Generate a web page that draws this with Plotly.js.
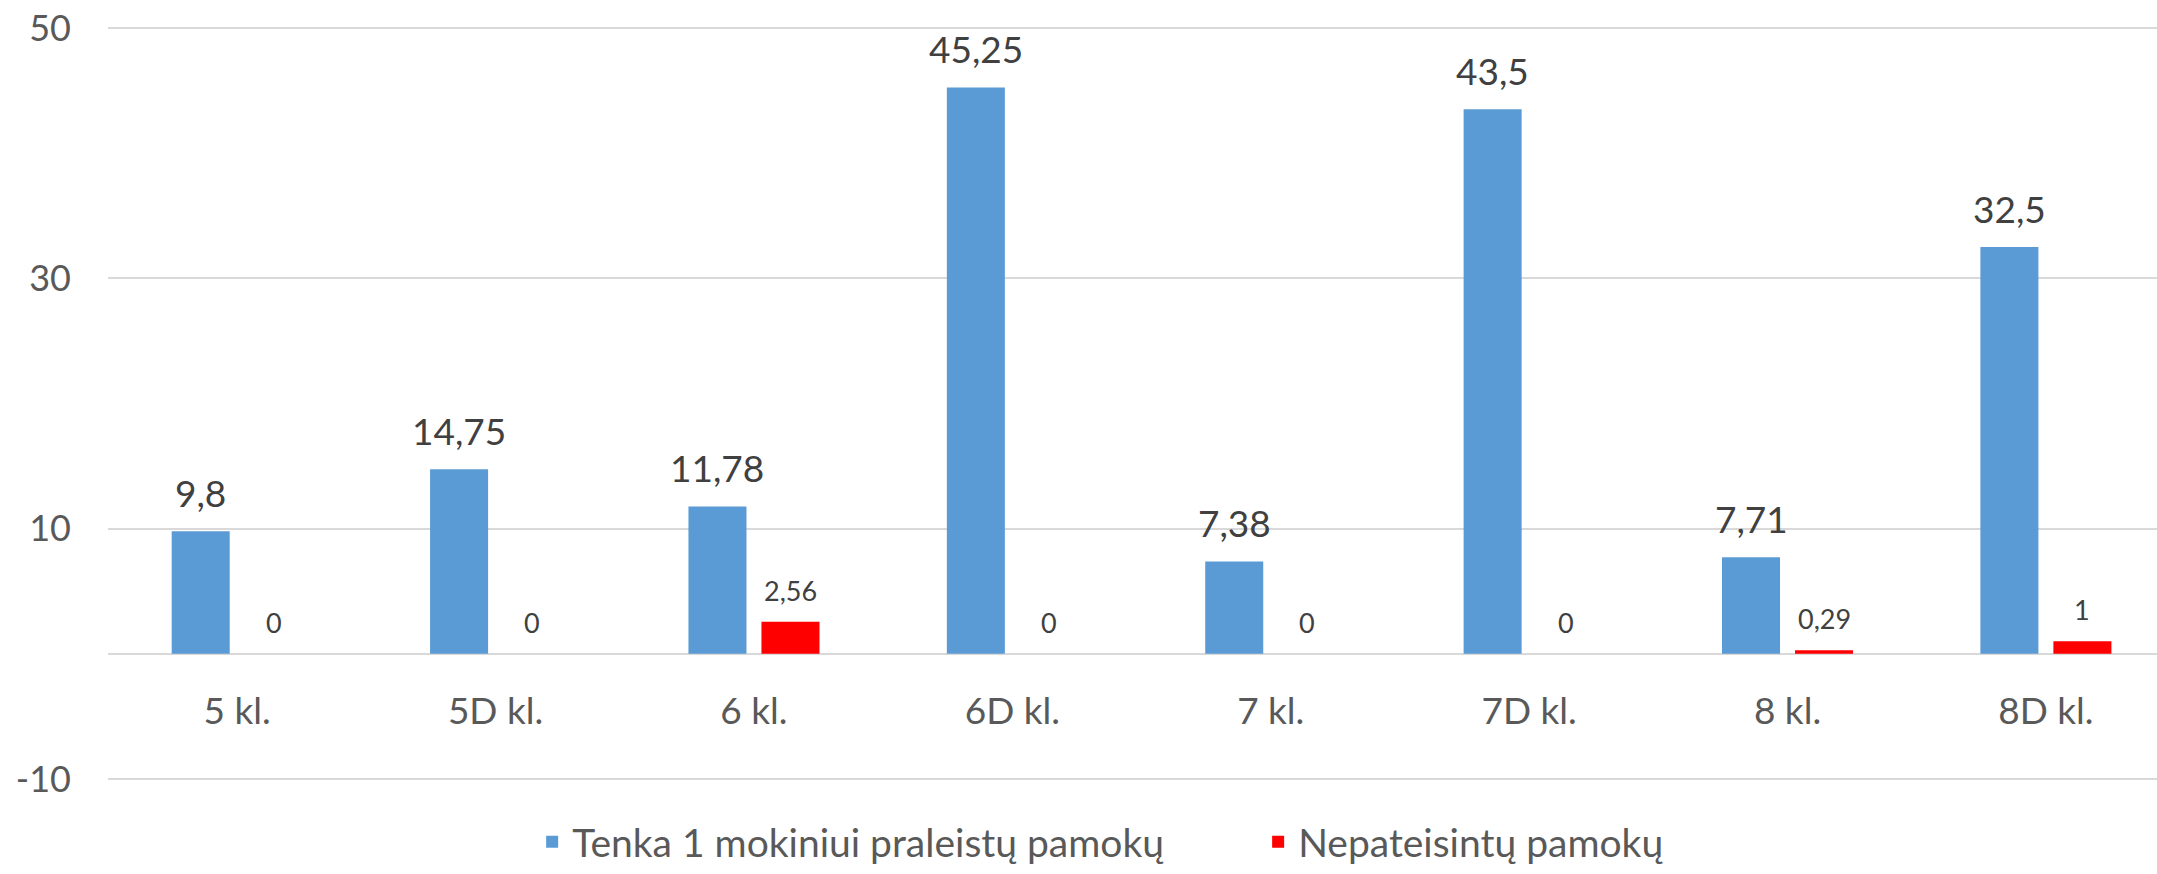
<!DOCTYPE html>
<html>
<head>
<meta charset="utf-8">
<script src="https://cdn.plot.ly/plotly-3.0.1.min.js"></script>
<style>
  html, body { margin: 0; padding: 0; background: #fff; }
  #graph { width: 2157px; height: 874px; }
</style>
</head>
<body>
<div id="graph"></div>
<script>
// classes and values
var klases = ['5 kl.', '5D kl.', '6 kl.', '6D kl.', '7 kl.', '7D kl.', '8 kl.', '8D kl.'];
var praleista = [9.8, 14.75, 11.78, 45.25, 7.38, 43.5, 7.71, 32.5];   // tenka 1 mokiniui
var nepateisinta = [0, 0, 2.56, 0, 0, 0, 0.29, 1];
var yTicks = [-10, 10, 30, 50];
var yTickText = ['-10', '10', '30', '50'];

var blue = '#5B9BD5';
var red = '#FF0000';
var font = 'Lato, "Open Sans", sans-serif';

var yMin = -10.88, yMax = 50.64;

function kablelis(v) { return String(v).replace('.', ','); }

var trace1 = {
  x: klases,
  y: praleista,
  name: 'Tenka 1 mokiniui praleistų pamokų',
  type: 'bar',
  marker: {color: blue},
  hoverinfo: 'x+y'
};
var trace2 = {
  x: klases,
  y: nepateisinta,
  name: 'Nepateisintų pamokų',
  type: 'bar',
  marker: {color: red},
  hoverinfo: 'x+y'
};

// data labels above each bar (comma decimals like the original)
var annotations = [];
for (var i = 0; i < klases.length; i++) {
  annotations.push({
    x: klases[i], y: praleista[i], xref: 'x', yref: 'y',
    text: kablelis(praleista[i]), showarrow: false,
    xshift: -36.5, yshift: 14, yanchor: 'bottom',
    font: {family: font, size: 37, color: '#404040'}
  });
  annotations.push({
    x: klases[i], y: nepateisinta[i], xref: 'x', yref: 'y',
    text: kablelis(nepateisinta[i]), showarrow: false,
    xshift: 36.5, yshift: 13, yanchor: 'bottom',
    font: {family: font, size: 27, color: '#404040'}
  });
}

var layout = {
  width: 2157,
  height: 874,
  margin: {l: 108, r: 0, t: 20, b: 84, autoexpand: false},
  paper_bgcolor: '#fff',
  plot_bgcolor: '#fff',
  barmode: 'group',
  bargap: 0.435,
  bargroupgap: 0.205,
  font: {family: font, color: '#595959'},
  xaxis: {
    type: 'category',
    range: [-0.5, 7.43],
    anchor: 'free',
    position: (0 - yMin) / (yMax - yMin),
    showgrid: false,
    showline: false,
    zeroline: false,
    ticks: '',
    ticklabelstandoff: 32,
    tickfont: {family: font, size: 37, color: '#595959'}
  },
  yaxis: {
    range: [yMin, yMax],
    tickmode: 'array',
    tickvals: yTicks,
    ticktext: yTickText,
    showgrid: true,
    gridcolor: '#d9d9d9',
    gridwidth: 2,
    zeroline: true,
    zerolinecolor: '#d9d9d9',
    zerolinewidth: 2,
    showline: false,
    ticks: '',
    ticklabelstandoff: 36,
    tickfont: {family: font, size: 36, color: '#595959'}
  },
  showlegend: true,
  legend: {
    orientation: 'h',
    xref: 'paper',
    x: 0.207,
    xanchor: 'left',
    yref: 'container',
    y: 0,
    yanchor: 'bottom',
    entrywidth: 681,
    entrywidthmode: 'pixels',
    font: {family: font, size: 39, color: '#595959'},
    bgcolor: 'rgba(0,0,0,0)'
  },
  annotations: annotations
};

Plotly.newPlot('graph', [trace1, trace2], layout, {displayModeBar: false, staticPlot: true});
</script>
</body>
</html>
